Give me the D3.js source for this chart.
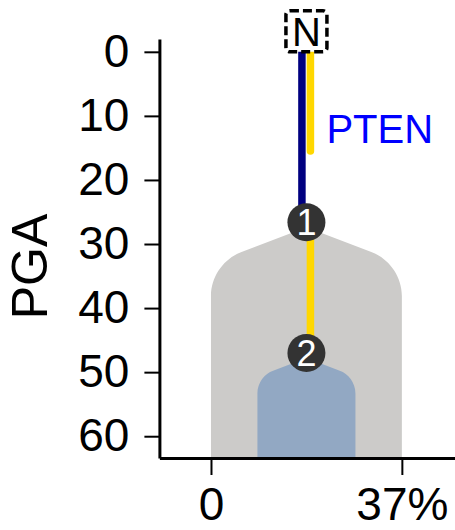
<!DOCTYPE html>
<meta charset="utf-8">
<script src="https://d3js.org/d3.v7.min.js"></script>
<style>
  body { margin: 0; background: #fff; }
  text { font-family: "Liberation Sans", Arial, sans-serif; }
</style>
<div id="my_dataviz"></div>
<script>

    // axis ticks
    const yTicks = [0, 10, 20, 30, 40, 50, 60];
    const xTicks = [0, 37];
    const xTickLabels = ["0", "37%"];

    // tree nodes (N = normal root)
    const nodeIds = ["N", "1", "2"];
    const nodePGA = [0, 26.6, 47];

    // clones hanging below their node
    const cloneIds = ["1", "2"];
    const cloneStart = [26.6, 47];
    const cloneCCF = [37, 19];
    const cloneColors = ["#cccbc9", "#92a8c3"];

    // edge segments (one lane per colour)
    const segFrom = [0, 0, 26.6];
    const segTo = [26.6, 15.5, 47];
    const segColors = ["#000080", "#ffd700", "#ffd700"];
    const segLane = [-1, 1, 1];

    // driver gene labels
    const geneLabels = ["PTEN"];
    const genePGA = [12];

    const width = 455, height = 530;

    const svg = d3.select("#my_dataviz")
      .append("svg")
        .attr("width", width)
        .attr("height", height);

    const y = d3.scaleLinear()
      .domain([-2, 63.4])
      .range([39, 458]);

    const x = d3.scaleLinear()
      .domain([-10, 47.3])
      .range([159.4, 455]);

    const cx = x(d3.max(cloneCCF) / 2);

    // clone shapes
    function clonePath(start, ccf) {
      const hw = (x(ccf) - x(0)) / 2;
      const yA = y(start) + 5;
      const yB = y(63.4);
      const p = d3.path();
      p.moveTo(cx, yA);
      p.lineTo(cx + 0.68 * hw, yA + 0.26 * hw);
      p.bezierCurveTo(cx + 0.85 * hw, yA + 0.32 * hw, cx + hw, yA + 0.5 * hw, cx + hw, yA + 0.72 * hw);
      p.lineTo(cx + hw, yB);
      p.lineTo(cx - hw, yB);
      p.lineTo(cx - hw, yA + 0.72 * hw);
      p.bezierCurveTo(cx - hw, yA + 0.5 * hw, cx - 0.85 * hw, yA + 0.32 * hw, cx - 0.68 * hw, yA + 0.26 * hw);
      p.closePath();
      return p.toString();
    }

    svg.selectAll("clone")
      .data(cloneIds)
      .join("path")
        .attr("d", (d, i) => clonePath(cloneStart[i], cloneCCF[i]))
        .style("fill", (d, i) => cloneColors[i]);

    // edge segments
    const laneOffset = {"-1": -4.5, "1": 4};
    svg.selectAll("seg")
      .data(segFrom)
      .join("line")
        .attr("x1", (d, i) => cx + laneOffset[segLane[i]])
        .attr("x2", (d, i) => cx + laneOffset[segLane[i]])
        .attr("y1", (d, i) => y(segFrom[i]))
        .attr("y2", (d, i) => y(segTo[i]))
        .style("stroke", (d, i) => segColors[i])
        .style("stroke-width", 7.5)
        .style("stroke-linecap", "round");

    // nodes
    const nodes = svg.selectAll("node")
      .data(nodeIds.slice(1))
      .join("g")
        .attr("transform", (d, i) => `translate(${cx}, ${y(nodePGA[i + 1])})`);
    nodes.append("circle")
      .attr("r", 19)
      .style("fill", "#333333");
    nodes.append("text")
      .attr("text-anchor", "middle")
      .attr("dy", "0.36em")
      .style("fill", "white")
      .style("font-size", "36px")
      .text(d => d);

    // root box
    const root = svg.append("g")
      .attr("transform", `translate(${cx}, ${y(nodePGA[0]) - 20.5})`);
    root.append("rect")
      .attr("x", -20.5).attr("y", -20.5)
      .attr("width", 41).attr("height", 41)
      .attr("rx", 4)
      .style("fill", "white")
      .style("stroke", "black")
      .style("stroke-width", 3.5)
      .style("stroke-dasharray", "9,4");
    root.append("text")
      .attr("text-anchor", "middle")
      .attr("dy", "0.36em")
      .style("font-size", "40px")
      .text(nodeIds[0]);

    // gene labels
    svg.selectAll("gene")
      .data(geneLabels)
      .join("text")
        .attr("x", cx + 20)
        .attr("y", (d, i) => y(genePGA[i]))
        .attr("dy", "0.36em")
        .style("fill", "blue")
        .style("font-size", "40px")
        .text(d => d);

    // axes
    svg.append("g")
      .attr("transform", `translate(${x(-10)}, 0)`)
      .call(d3.axisLeft(y).tickValues(yTicks).tickSize(15).tickSizeOuter(0).tickPadding(15));
    svg.append("g")
      .attr("transform", `translate(0, ${y(63.4)})`)
      .call(d3.axisBottom(x).tickValues(xTicks).tickFormat((d, i) => xTickLabels[i])
        .tickSize(17).tickSizeOuter(0).tickPadding(12));

    svg.selectAll(".domain").style("stroke", "black").style("stroke-width", 3);
    svg.selectAll(".tick line").style("stroke", "black").style("stroke-width", 2);
    svg.selectAll(".tick text")
      .style("font-family", "Liberation Sans, Arial, sans-serif")
      .style("font-size", "46px")
      .style("fill", "black");

    // Y axis label
    svg.append("text")
      .attr("text-anchor", "middle")
      .attr("transform", `translate(47, ${y(33.5)}) rotate(-90)`)
      .style("font-size", "50px")
      .text("PGA");

</script>
